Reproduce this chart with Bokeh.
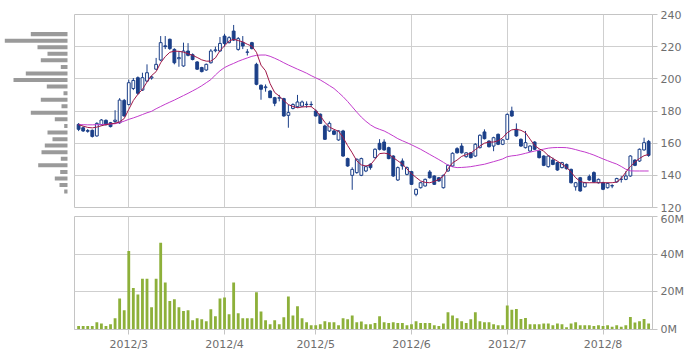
import numpy as np
from bokeh.plotting import figure
from bokeh.layouts import column, row
from bokeh.models import Range1d, LinearAxis, FixedTicker, ColumnDataSource, Label
from bokeh.embed import file_html
from bokeh.resources import INLINE

# ---------------- data ----------------
month_ticks = [11, 32, 52, 73, 94, 115]          # first trading day of each month (index)
month_labels = ["2012/3", "2012/4", "2012/5", "2012/6", "2012/7", "2012/8"]

opens = [171.7, 169.6, 167.8, 168.0, 164.5, 171.5, 174.2, 172.7, 173.5, 172.7,
         186.6, 184.0, 194.0, 200.7, 193.0, 198.6, 200.5, 206.0, 211.7, 220.5,
         224.6, 218.3, 212.5, 208.0, 217.3, 215.0, 210.5, 207.0, 205.5, 210.0,
         217.5, 217.3, 226.6, 222.5, 229.7, 218.3, 222.5, 216.5, 222.5, 209.0,
         196.0, 194.5, 192.4, 188.3, 188.0, 187.7, 177.3, 181.6, 182.7, 183.0,
         184.0, 184.0, 180.0, 178.0, 170.7, 167.6, 167.6, 162.0, 167.6, 150.4,
         140.0, 141.7, 140.0, 142.7, 146.9, 151.0, 159.9, 160.7, 157.2, 152.0,
         137.1, 148.9, 140.6, 142.3, 128.2, 132.3, 133.4, 142.1, 139.6, 138.5,
         132.3, 142.7, 145.8, 156.6, 158.2, 151.6, 154.0, 152.0, 157.2, 167.0,
         161.3, 158.2, 165.5, 159.3, 162.4, 180.0, 168.6, 162.4, 157.2, 155.1,
         160.7, 155.1, 152.0, 145.4, 149.5, 147.9, 144.8, 146.8, 143.7, 132.9,
         138.5, 132.9, 139.2, 141.7, 135.4, 135.4, 132.3, 133.6, 135.9, 137.5,
         137.5, 139.6, 149.5, 148.9, 155.8, 161.1]
highs = [172.5, 170.5, 168.8, 168.5, 173.0, 175.0, 174.8, 173.2, 180.5, 188.0,
         187.5, 199.5, 200.5, 201.5, 203.8, 209.0, 202.0, 213.0, 226.6, 226.6,
         225.0, 219.0, 217.3, 222.5, 222.2, 215.8, 211.0, 207.5, 209.5, 218.5,
         220.0, 226.0, 228.0, 226.5, 233.5, 226.0, 226.6, 218.5, 223.0, 210.0,
         196.5, 196.5, 193.0, 188.8, 190.0, 188.2, 184.0, 184.8, 190.0, 186.5,
         186.0, 186.0, 181.0, 178.5, 171.5, 173.5, 168.2, 168.0, 168.3, 151.0,
         145.0, 150.5, 151.0, 146.0, 147.5, 156.8, 162.5, 162.4, 157.8, 152.5,
         145.5, 150.5, 145.5, 142.8, 131.8, 136.0, 138.0, 143.3, 140.0, 139.0,
         140.5, 146.8, 154.3, 157.5, 160.0, 154.5, 154.5, 160.0, 165.5, 168.6,
         161.8, 164.0, 166.0, 162.5, 178.5, 182.7, 172.3, 163.0, 167.6, 158.7,
         161.2, 155.6, 152.5, 152.5, 151.0, 148.4, 148.4, 147.3, 144.2, 135.9,
         139.0, 135.9, 140.5, 142.5, 138.0, 136.0, 135.5, 134.5, 138.5, 139.5,
         142.5, 152.5, 150.0, 156.7, 163.4, 162.0]
lows = [167.5, 167.0, 166.5, 163.5, 164.0, 171.0, 171.0, 169.8, 172.0, 172.0,
        176.5, 183.5, 193.0, 190.0, 192.5, 198.0, 199.5, 205.5, 211.0, 218.5,
        218.0, 209.0, 207.5, 207.5, 214.0, 211.5, 205.5, 204.0, 205.0, 209.5,
        216.5, 216.8, 220.0, 222.0, 223.5, 217.5, 218.5, 214.5, 218.3, 196.0,
        187.0, 192.0, 188.0, 183.0, 186.0, 176.5, 169.6, 181.0, 182.0, 182.5,
        182.0, 182.5, 176.5, 172.0, 162.0, 167.0, 165.0, 161.5, 151.5, 145.3,
        131.0, 141.0, 139.5, 142.0, 143.5, 150.5, 155.5, 155.3, 150.0, 139.0,
        136.5, 143.5, 140.0, 134.0, 127.0, 131.8, 133.0, 138.0, 134.0, 136.0,
        131.8, 142.2, 145.3, 153.5, 153.5, 151.0, 150.5, 151.5, 156.7, 162.3,
        157.3, 155.0, 158.8, 158.8, 162.0, 176.4, 164.0, 157.7, 156.7, 154.6,
        155.7, 150.5, 145.7, 144.8, 146.3, 142.8, 144.3, 143.6, 134.9, 130.5,
        129.8, 132.4, 136.6, 135.4, 134.9, 130.8, 131.8, 132.0, 135.4, 135.5,
        137.0, 139.1, 145.7, 148.4, 155.3, 151.5]
closes = [168.6, 167.6, 167.4, 164.2, 172.3, 174.4, 171.5, 170.3, 174.3, 186.8,
          176.9, 197.6, 199.0, 191.0, 200.7, 203.8, 201.2, 209.0, 222.5, 220.0,
          218.8, 210.0, 213.2, 217.3, 214.6, 212.0, 206.0, 204.5, 209.0, 217.3,
          218.0, 222.0, 222.0, 225.6, 224.1, 225.0, 220.4, 216.7, 218.8, 196.6,
          193.5, 195.0, 188.3, 184.8, 188.2, 176.9, 179.0, 184.0, 185.6, 185.6,
          184.2, 184.1, 176.9, 172.3, 162.4, 172.3, 165.5, 167.6, 152.0, 145.8,
          143.7, 150.0, 150.4, 145.4, 144.8, 156.2, 156.2, 155.8, 150.4, 139.6,
          144.8, 145.8, 144.8, 134.4, 131.3, 135.4, 137.5, 138.5, 134.4, 136.5,
          140.0, 146.2, 153.7, 154.0, 154.0, 154.0, 151.0, 159.3, 164.9, 162.8,
          157.8, 163.4, 159.3, 162.0, 177.9, 176.9, 164.5, 158.2, 160.3, 158.2,
          156.2, 151.0, 146.2, 152.0, 146.8, 143.3, 147.9, 144.1, 135.4, 135.4,
          130.3, 135.4, 137.1, 135.9, 137.5, 131.3, 135.0, 133.4, 138.0, 137.6,
          139.6, 152.0, 146.2, 156.2, 160.3, 152.4]
volume_m = [1.8, 1.8, 1.8, 1.8, 3.9, 3.2, 1.8, 2.8, 6.0, 16.5,
            10.2, 41.7, 22.1, 18.6, 27.0, 27.0, 11.8, 27.0, 46.0, 24.9,
            15.1, 16.0, 11.8, 9.8, 10.2, 4.9, 6.0, 5.4, 4.4, 10.7,
            7.0, 16.5, 17.0, 8.1, 24.9, 8.6, 6.0, 6.0, 6.0, 19.8,
            9.6, 4.9, 2.8, 4.9, 2.8, 6.5, 17.5, 7.5, 12.3, 6.0,
            3.9, 2.3, 2.3, 2.8, 4.4, 3.9, 3.9, 2.3, 6.0, 5.4,
            7.5, 3.9, 4.2, 2.8, 2.8, 3.5, 7.0, 3.9, 3.5, 3.9,
            3.5, 3.5, 2.3, 2.8, 4.4, 3.5, 3.5, 3.5, 2.3, 1.8,
            3.2, 9.1, 7.5, 6.0, 4.4, 3.5, 5.4, 9.1, 4.4, 3.9,
            3.9, 2.8, 2.3, 2.3, 12.8, 10.5, 10.9, 5.6, 6.1, 2.8,
            2.8, 2.8, 3.2, 3.2, 2.3, 3.2, 2.8, 1.2, 3.2, 3.9,
            2.3, 2.3, 2.3, 1.8, 2.3, 1.8, 2.3, 1.4, 2.3, 1.4,
            2.3, 6.7, 3.7, 4.4, 5.6, 3.2]
sma5 = [171.5, 170.6, 169.8, 169.5, 170.0, 170.8, 171.5, 172.0, 172.4, 173.3,
        175.3, 181.0, 186.5, 190.4, 193.5, 198.0, 202.0, 204.5, 210.0, 213.8,
        216.5, 217.2, 217.1, 216.6, 215.6, 214.6, 213.3, 211.8, 211.0, 211.0,
        213.0, 217.5, 220.5, 223.5, 224.6, 223.8, 223.0, 221.5, 220.3, 216.5,
        208.5, 205.0, 197.0, 191.5, 189.3, 186.5, 184.0, 182.8, 182.0, 182.5,
        182.7, 182.7, 180.5, 177.0, 173.0, 170.0, 168.6, 167.4, 163.5, 158.5,
        154.0, 149.0, 146.5, 145.8, 146.5, 150.0, 153.5, 153.8, 153.3, 151.0,
        149.0, 147.0, 144.0, 141.0, 138.7, 136.5, 135.6, 135.4, 136.2, 137.5,
        139.5, 144.0, 147.8, 149.5, 151.8, 152.8, 153.8, 156.0, 158.2, 160.0,
        160.7, 160.7, 161.5, 163.4, 166.5, 168.3, 168.6, 168.0, 166.5, 162.5,
        158.5, 156.5, 155.0, 152.3, 150.5, 148.8, 147.0, 145.0, 142.0, 138.5,
        136.2, 135.4, 135.4, 135.4, 135.4, 135.4, 135.4, 135.4, 135.8, 138.0,
        142.0, 145.5, 148.3, 150.5, 152.2, 153.0]
sma25 = [171.5, 171.5, 171.4, 171.4, 171.5, 171.6, 171.7, 171.9, 172.1, 172.8,
         173.7, 174.8, 175.7, 176.7, 177.8, 178.9, 179.8, 181.4, 182.8, 184.2,
         185.5, 186.8, 188.2, 189.6, 191.0, 192.5, 194.0, 195.7, 197.6, 199.5,
         202.4, 205.0, 207.0, 208.4, 209.6, 210.9, 212.0, 213.0, 214.0, 214.6,
         214.8, 214.8, 214.0, 212.8, 211.5, 210.0, 208.6, 207.3, 206.0, 204.8,
         203.5, 202.0, 200.6, 199.3, 197.6, 195.8, 194.0, 191.5, 188.9, 185.9,
         182.6, 179.3, 176.2, 173.6, 171.4, 169.7, 168.6, 167.6, 166.1, 164.5,
         162.8, 161.5, 160.3, 159.0, 157.6, 156.2, 154.6, 153.0, 151.4, 149.8,
         148.1, 146.3, 145.3, 144.8, 144.9, 145.1, 145.4, 145.9, 146.4, 146.9,
         147.7, 148.5, 149.3, 150.2, 151.6, 152.1, 152.4, 153.0, 153.7, 154.4,
         155.1, 155.7, 156.3, 156.9, 157.2, 157.3, 157.3, 157.2, 156.7, 156.0,
         155.2, 154.5, 153.6, 152.6, 151.4, 150.2, 149.1, 148.0, 147.0, 145.5,
         143.8, 142.8, 142.7, 142.7, 142.7, 142.7]

# volume-by-price profile (bottom bin to top bin)
profile_price = [129.9, 134.0, 138.1, 142.1, 146.2, 150.3, 154.4, 158.5, 162.5, 166.6,
                 170.7, 174.8, 178.9, 182.9, 187.0, 191.1, 195.2, 199.3, 203.3, 207.4,
                 211.5, 215.6, 219.7, 223.7, 227.8]
profile_volume = [3.3, 8.0, 12.7, 7.3, 29.3, 6.7, 26.0, 22.7, 15.0, 20.0,
                  3.3, 12.7, 36.7, 6.0, 26.7, 4.0, 20.7, 54.0, 41.7, 6.7,
                  26.7, 20.0, 30.0, 62.7, 36.7]

price_ticks = [120, 140, 160, 180, 200, 220, 240]
vol_ticks = [0, 20, 40, 60]
vol_labels = ["0M", "20M", "40M", "60M"]

# ---------------- styling ----------------
NAVY = "#1b3f88"
GRID = "#cfcfcf"
TXT = "#6e6e6e"
FONT = "DejaVu Sans"
C_SMA5 = "#a01848"
C_SMA25 = "#c23ccc"
VOLC = "#8db03a"

n = len(closes)
idx = np.arange(n)
o = np.array(opens); c = np.array(closes)
up = c >= o
src = ColumnDataSource(dict(
    x=idx, top=np.maximum(o, c), bottom=np.minimum(o, c),
    high=np.array(highs), low=np.array(lows),
    fill=np.where(up, "white", NAVY), vol=volume_m,
    sma5=sma5, sma25=sma25))

xr = Range1d(-0.9, 125.85)
yr = Range1d(120, 240)

# price panel
p = figure(width=613, height=212, x_range=xr, y_range=yr, output_backend="svg",
           toolbar_location=None, min_border_left=0, min_border_right=35,
           min_border_top=14, min_border_bottom=5, x_axis_location=None,
           y_axis_location=None)
p.outline_line_color = "#c4c4c4"
p.background_fill_color = "white"
p.border_fill_color = "white"
ax = LinearAxis(ticker=FixedTicker(ticks=price_ticks))
ax.axis_line_color = "#c4c4c4"
ax.major_tick_line_color = "#c4c4c4"
ax.major_tick_out = 5
ax.major_tick_in = 0
ax.minor_tick_line_color = None
ax.major_label_standoff = 3
ax.major_label_text_font = FONT
ax.major_label_text_font_size = "11px"
ax.major_label_text_color = TXT
p.add_layout(ax, "right")
p.xgrid.ticker = FixedTicker(ticks=month_ticks)
p.ygrid.ticker = FixedTicker(ticks=price_ticks)
p.xgrid.grid_line_color = GRID
p.ygrid.grid_line_color = GRID

p.segment(x0="x", y0="low", x1="x", y1="high", source=src, line_color=NAVY, line_width=1)
p.vbar(x="x", top="top", bottom="bottom", width=0.62, source=src,
       fill_color="fill", line_color=NAVY, line_width=1)
p.line("x", "sma25", source=src, line_color=C_SMA25, line_width=1)
p.line("x", "sma5", source=src, line_color=C_SMA5, line_width=1)

# volume-by-price profile
pp = figure(width=74, height=212, x_range=Range1d(67, -7), y_range=yr,
            output_backend="svg", toolbar_location=None, min_border_left=0,
            min_border_right=0, min_border_top=14, min_border_bottom=5,
            x_axis_location=None, y_axis_location=None)
pp.outline_line_color = None
pp.xgrid.visible = False
pp.ygrid.visible = False
pp.hbar(y=profile_price, height=2.5, left=0, right=profile_volume,
        fill_color="#9a9a9a", line_color=None)

# volume panel
v = figure(width=687, height=141, x_range=xr, y_range=Range1d(0, 60),
           output_backend="svg", toolbar_location=None, min_border_left=74,
           min_border_right=35, min_border_top=4, min_border_bottom=23,
           x_axis_location=None, y_axis_location=None)
v.outline_line_color = "#c4c4c4"
vax = LinearAxis(ticker=FixedTicker(ticks=vol_ticks),
                 major_label_overrides={t: l for t, l in zip(vol_ticks, vol_labels)})
bax = LinearAxis(ticker=FixedTicker(ticks=month_ticks),
                 major_label_overrides={t: l for t, l in zip(month_ticks, month_labels)})
for a in (vax, bax):
    a.axis_line_color = "#c4c4c4"
    a.major_tick_line_color = "#c4c4c4"
    a.major_tick_out = 5
    a.major_tick_in = 0
    a.minor_tick_line_color = None
    a.major_label_standoff = 3
    a.major_label_text_font = FONT
    a.major_label_text_font_size = "11px"
    a.major_label_text_color = TXT
v.add_layout(vax, "right")
v.add_layout(bax, "below")
v.xgrid.ticker = FixedTicker(ticks=month_ticks)
v.ygrid.ticker = FixedTicker(ticks=vol_ticks)
v.xgrid.grid_line_color = GRID
v.ygrid.grid_line_color = GRID
v.vbar(x="x", top="vol", bottom=0, width=0.62, source=src, fill_color=VOLC, line_color=None)

for txt, xs, col in [("l.60", -66, "#333333"), ("\u25a0", -34, C_SMA5), ("SMA 5", -25, C_SMA5),
                     ("\u25a0", 20, C_SMA25), ("SMA 25", 29, C_SMA25)]:
    v.add_layout(Label(x=xs, y=-18, x_units="screen", y_units="screen", text=txt,
                       text_baseline="top", text_font=FONT, text_font_size="11px",
                       text_color=col))

layout = column(row(pp, p), v)
open("out.html", "w").write(file_html(layout, INLINE))
